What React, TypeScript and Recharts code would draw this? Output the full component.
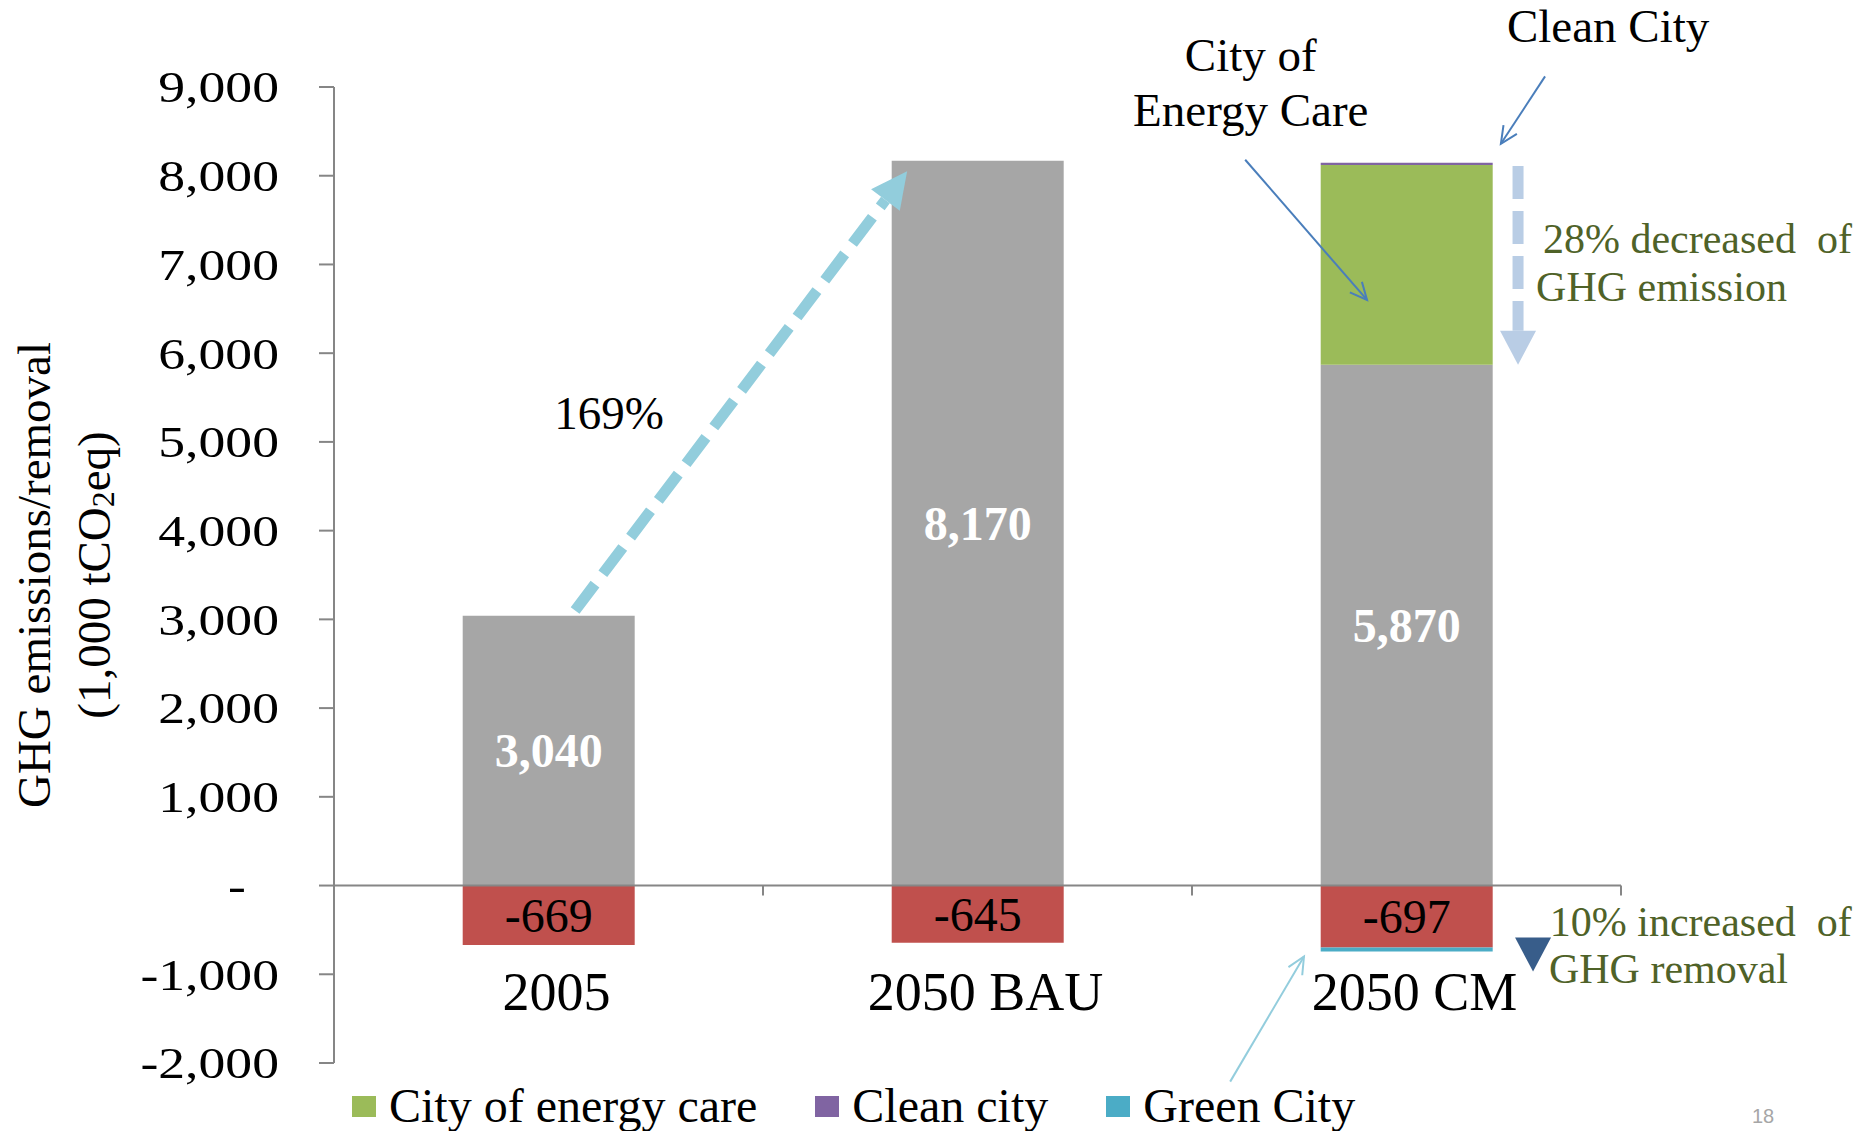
import React from "react";
import {
  Bar,
  BarChart,
  Label,
  LabelList,
  Legend,
  ReferenceDot,
  ReferenceLine,
  XAxis,
  YAxis,
} from "recharts";

const SERIF = '"Liberation Serif", "Times New Roman", serif';
const AXIS_GREY = "#868686";

// chart values, 1,000 tCO2eq
const CATEGORIES = ["2005", "2050 BAU", "2050 CM"];
const BASE_EMISSION = [3040, 8170, 5870];
const REMOVAL = [-669, -645, -697];
const ENERGY_CARE = [0, 0, 2250];
const CLEAN_CITY = [0, 0, 25];
const GREEN_CITY = [0, 0, -45];
const Y_TICKS = [-2000, -1000, 0, 1000, 2000, 3000, 4000, 5000, 6000, 7000, 8000, 9000];
const CATEGORY_EDGES = [0, 1, 2, 3];

// annotation anchors: x on a 0..3 track across the categories, y in chart units
const GROWTH_ARROW = [{ x: 0.562, y: 3100 }, { x: 1.336, y: 8050 }];
const DECREASE_ARROW = [{ x: 2.76, y: 8110 }, { x: 2.76, y: 5870 }];
const REMOVAL_ARROW = [{ x: 2.795, y: -585 }, { x: 2.795, y: -970 }];
const ENERGY_POINTER = [{ x: 2.124, y: 8180 }, { x: 2.408, y: 6600 }];
const CLEAN_POINTER = [{ x: 2.823, y: 9120 }, { x: 2.72, y: 8360 }];
const GREEN_POINTER = [{ x: 2.089, y: -2210 }, { x: 2.261, y: -800 }];

const NOTE_TEXT = ["169%", "City of", "Energy Care", "Clean City", "28% decreased  of", "GHG emission", "10% increased  of", "GHG removal"];
const NOTE_X = [0.641, 2.137, 2.137, 2.97, 2.818, 2.802, 2.834, 2.832];
const NOTE_Y = [5330, 9361, 8745, 9685, 7286, 6751, -411, -946];

const data = CATEGORIES.map((name, i) => ({
  name,
  pos: i + 0.5,
  base: BASE_EMISSION[i],
  removal: REMOVAL[i],
  energy: ENERGY_CARE[i],
  clean: CLEAN_CITY[i],
  green: GREEN_CITY[i],
}));

const noteStyle = (i: number) =>
  i >= 4
    ? { color: "#4F6228", size: 42, anchor: "start" }
    : { color: "#000", size: 47, anchor: "middle" };

type ArrowStyle = {
  color: string;
  width: number;
  dash?: string;
  head: number;
  headWidth: number;
  open?: boolean;
};

const arrowShape = (s: ArrowStyle) => (p: any) => {
  const { x1, y1, x2, y2 } = p;
  const dx = x2 - x1;
  const dy = y2 - y1;
  const len = Math.hypot(dx, dy) || 1;
  const ux = dx / len;
  const uy = dy / len;
  const head = Math.min(s.head, len);
  const bx = x2 - ux * head;
  const by = y2 - uy * head;
  const nx = (-uy * s.headWidth) / 2;
  const ny = (ux * s.headWidth) / 2;
  if (s.open) {
    return (
      <g>
        <line x1={x1} y1={y1} x2={x2} y2={y2} stroke={s.color} strokeWidth={s.width} />
        <polyline
          points={`${bx + nx},${by + ny} ${x2},${y2} ${bx - nx},${by - ny}`}
          fill="none"
          stroke={s.color}
          strokeWidth={s.width}
        />
      </g>
    );
  }
  return (
    <g>
      {len > head && (
        <line x1={x1} y1={y1} x2={bx} y2={by} stroke={s.color} strokeWidth={s.width} strokeDasharray={s.dash} />
      )}
      <polygon points={`${x2},${y2} ${bx + nx},${by + ny} ${bx - nx},${by - ny}`} fill={s.color} />
    </g>
  );
};

const YTick = ({ x, y, payload }: any) => {
  const v = payload.value as number;
  const label = v === 0 ? "-" : v.toLocaleString("en-US");
  return (
    <text
      transform={`translate(${x + (v === 0 ? -33 : 0)},${y}) scale(1.22,1)`}
      textAnchor="end"
      dy="0.35em"
      fontSize={44}
      fontFamily={SERIF}
      fill="#000"
    >
      {label}
    </text>
  );
};

const CategoryTick = ({ x, y, payload }: any) => (
  <text x={x} y={y} dx={8} dy={-53} textAnchor="middle" fontSize={54} fontFamily={SERIF} fill="#000">
    {payload.value}
  </text>
);

const AxisTitle = ({ viewBox }: any) => {
  const cy = viewBox.y + viewBox.height / 2;
  const x0 = viewBox.x;
  return (
    <g fontFamily={SERIF} fontSize={47} fill="#000">
      <text transform={`translate(${x0 + 34},${cy}) rotate(-90)`} textAnchor="middle" dominantBaseline="central">
        GHG emissions/removal
      </text>
      <text transform={`translate(${x0 + 94},${cy}) rotate(-90)`} textAnchor="middle" dominantBaseline="central">
        (1,000 tCO
        <tspan fontSize={32} dy={9}>2</tspan>
        <tspan dy={-9}>eq)</tspan>
      </text>
    </g>
  );
};

const barLabel = (color: string, bold: boolean, size: number) => (p: any) => {
  const { x, y, width, height, value } = p;
  if (!value) return null;
  return (
    <text
      x={x + width / 2}
      y={y + height / 2}
      textAnchor="middle"
      dominantBaseline="central"
      fontFamily={SERIF}
      fontWeight={bold ? "bold" : "normal"}
      fontSize={size}
      fill={color}
    >
      {Number(value).toLocaleString("en-US")}
    </text>
  );
};

const LegendContent = ({ payload }: any) => (
  <div
    style={{
      display: "flex",
      alignItems: "center",
      fontFamily: SERIF,
      fontSize: 48,
      lineHeight: "48px",
      whiteSpace: "nowrap",
      color: "#000",
    }}
  >
    {(payload || [])
      .filter((e: any) => e.type !== "none")
      .map((e: any) => (
        <div key={e.value} style={{ display: "flex", alignItems: "center", marginRight: 58 }}>
          <span style={{ display: "inline-block", width: 24, height: 21, background: e.color, marginRight: 13 }} />
          <span>{e.value}</span>
        </div>
      ))}
  </div>
);

const tickMark = (p: any) => (
  <line x1={p.cx} y1={p.cy} x2={p.cx} y2={p.cy + 10} stroke={AXIS_GREY} strokeWidth={2} />
);

export default function App() {
  return (
    <div style={{ position: "absolute", left: 0, top: 0, width: 1864, height: 1131, background: "#fff" }}>
      <BarChart
        width={1864}
        height={1131}
        data={data}
        stackOffset="sign"
        barCategoryGap="30%"
        margin={{ top: 87, right: 243, bottom: 0, left: 0 }}
      >
        <XAxis
          dataKey="name"
          height={68}
          axisLine={false}
          tickLine={false}
          tickSize={0}
          tickMargin={0}
          interval={0}
          tick={<CategoryTick />}
        />
        <XAxis xAxisId="ann" dataKey="pos" type="number" domain={[0, 3]} allowDataOverflow hide />
        <YAxis
          width={334}
          domain={[-2000, 9000]}
          ticks={Y_TICKS}
          interval={0}
          allowDataOverflow
          axisLine={{ stroke: AXIS_GREY, strokeWidth: 2 }}
          tickLine={{ stroke: AXIS_GREY, strokeWidth: 2 }}
          tickSize={15}
          tickMargin={40}
          tick={<YTick />}
        >
          <Label content={AxisTitle} />
        </YAxis>
        <Legend
          verticalAlign="middle"
          align="center"
          layout="horizontal"
          wrapperStyle={{ top: 1082, left: 352, width: 1200, height: 48 }}
          content={<LegendContent />}
        />
        <Bar dataKey="base" stackId="s" fill="#A6A6A6" legendType="none" isAnimationActive={false}>
          <LabelList dataKey="base" content={barLabel("#fff", true, 48)} />
        </Bar>
        <Bar dataKey="removal" stackId="s" fill="#C0504D" legendType="none" isAnimationActive={false}>
          <LabelList dataKey="removal" content={barLabel("#000", false, 48)} />
        </Bar>
        <Bar dataKey="energy" name="City of energy care" stackId="s" fill="#9BBB59" isAnimationActive={false} />
        <Bar dataKey="clean" name="Clean city" stackId="s" fill="#8064A2" isAnimationActive={false} />
        <Bar dataKey="green" name="Green City" stackId="s" fill="#4BACC6" isAnimationActive={false} />

        <ReferenceLine y={0} stroke={AXIS_GREY} strokeWidth={2} ifOverflow="visible" />
        {CATEGORY_EDGES.map((e) => (
          <ReferenceDot key={`t${e}`} xAxisId="ann" x={e} y={0} r={0} ifOverflow="visible" shape={tickMark} />
        ))}

        <ReferenceLine
          xAxisId="ann"
          segment={GROWTH_ARROW}
          ifOverflow="visible"
          shape={arrowShape({ color: "#92CDDC", width: 11, dash: "33 13", head: 36, headWidth: 36 })}
        />
        <ReferenceLine
          xAxisId="ann"
          segment={DECREASE_ARROW}
          ifOverflow="visible"
          shape={arrowShape({ color: "#B9CDE5", width: 11, dash: "33 12", head: 34, headWidth: 36 })}
        />
        <ReferenceLine
          xAxisId="ann"
          segment={REMOVAL_ARROW}
          ifOverflow="visible"
          shape={arrowShape({ color: "#385D8A", width: 0, head: 1000, headWidth: 36 })}
        />
        <ReferenceLine
          xAxisId="ann"
          segment={ENERGY_POINTER}
          ifOverflow="visible"
          shape={arrowShape({ color: "#4A7EBB", width: 2, head: 17, headWidth: 16, open: true })}
        />
        <ReferenceLine
          xAxisId="ann"
          segment={CLEAN_POINTER}
          ifOverflow="visible"
          shape={arrowShape({ color: "#4A7EBB", width: 2, head: 17, headWidth: 16, open: true })}
        />
        <ReferenceLine
          xAxisId="ann"
          segment={GREEN_POINTER}
          ifOverflow="visible"
          shape={arrowShape({ color: "#93CDDD", width: 2, head: 17, headWidth: 16, open: true })}
        />

        {NOTE_TEXT.map((t, i) => {
          const st = noteStyle(i);
          return (
            <ReferenceDot
              key={t}
              xAxisId="ann"
              x={NOTE_X[i]}
              y={NOTE_Y[i]}
              r={0}
              ifOverflow="visible"
              shape={(p: any) => (
                <text
                  x={p.cx}
                  y={p.cy}
                  textAnchor={st.anchor as any}
                  dominantBaseline="central"
                  fontFamily={SERIF}
                  fontSize={st.size}
                  fill={st.color}
                  style={{ whiteSpace: "pre" }}
                >
                  {t}
                </text>
              )}
            />
          );
        })}
      </BarChart>
      <div
        style={{
          position: "absolute",
          left: 1752,
          top: 1105,
          fontFamily: '"Liberation Sans", Arial, sans-serif',
          fontSize: 20,
          color: "#A6A6A6",
        }}
      >
        18
      </div>
    </div>
  );
}
